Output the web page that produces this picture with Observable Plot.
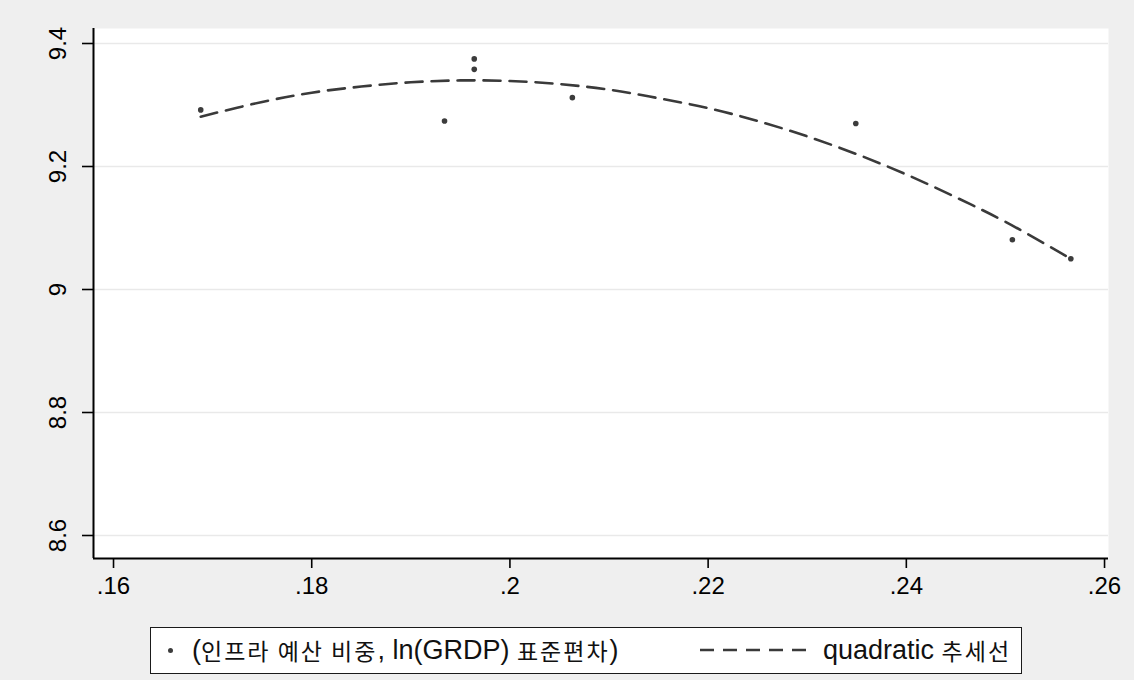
<!DOCTYPE html>
<html>
<head>
<meta charset="utf-8">
<script src="https://cdn.jsdelivr.net/npm/d3@7"></script>
<script src="https://cdn.jsdelivr.net/npm/@observablehq/plot@0.6"></script>
<style>
  html, body { margin: 0; padding: 0; background: #efefef; }
  #wrap { position: relative; width: 1134px; height: 680px; background: #efefef; overflow: hidden; }
  #legend {
    position: absolute; left: 150px; top: 627px; width: 872px; height: 47px;
    box-sizing: border-box; background: #fff; border: 1.5px solid #1a1a1a;
    font-family: "Liberation Sans", Arial, "Noto Sans CJK KR", sans-serif; color: #111;
  }
  #legend .item { position: absolute; top: 0; height: 44px; display: flex; align-items: center; white-space: nowrap; }
  #legend .lat { font-size: 27px; }
  #legend .kr { font-family: "Noto Sans CJK KR", sans-serif; font-size: 23px; letter-spacing: 2px; }
</style>
</head>
<body>
<div id="wrap">
  <div id="chart"></div>
  <div id="legend"></div>
</div>
<script>
// Scatter points: (infrastructure budget share, ln(GRDP) std. dev.)
const pointX = [0.1688, 0.1934, 0.1964, 0.1964, 0.2063, 0.2349, 0.2507, 0.2566];
const pointY = [9.292, 9.274, 9.375, 9.358, 9.312, 9.270, 9.081, 9.050];

// Quadratic trend line
const fitX = [0.1688, 0.175, 0.18, 0.185, 0.19, 0.195, 0.2, 0.205, 0.21, 0.215, 0.22, 0.225, 0.23, 0.235, 0.24, 0.245, 0.25, 0.2566];
const fitY = [9.281, 9.305, 9.320, 9.330, 9.337, 9.340, 9.339, 9.334, 9.325, 9.311, 9.295, 9.274, 9.249, 9.220, 9.187, 9.150, 9.110, 9.050];

// Ticks
const xTicks = [0.16, 0.18, 0.2, 0.22, 0.24, 0.26];
const xTickLabels = [".16", ".18", ".2", ".22", ".24", ".26"];
const yTicks = [8.6, 8.8, 9, 9.2, 9.4];
const yTickLabels = ["8.6", "8.8", "9", "9.2", "9.4"];

// Legend
const legendPointParts = [["lat", "("], ["kr", "인프라 예산 비중"], ["lat", ", ln(GRDP) "], ["kr", "표준편차"], ["lat", ")"]];
const legendLineParts = [["lat", "quadratic "], ["kr", "추세선"]];

const points = pointX.map((x, i) => ({x, y: pointY[i]}));
const fit = fitX.map((x, i) => ({x, y: fitY[i]}));
const xFmt = new Map(xTicks.map((t, i) => [t, xTickLabels[i]]));
const yLab = yTicks.map((t, i) => ({y: t, label: yTickLabels[i]}));

const xDomain = [0.15798, 0.2604];
const yDomain = [8.5626, 9.4244];

const chart = Plot.plot({
  width: 1134,
  height: 615,
  marginTop: 28,
  marginBottom: 57,
  marginLeft: 93,
  marginRight: 26,
  style: {background: "transparent", fontFamily: "'Liberation Sans', Arial, sans-serif", color: "#000"},
  x: {domain: xDomain},
  y: {domain: yDomain},
  marks: [
    Plot.frame({fill: "white", stroke: null}),
    Plot.gridY(yTicks, {stroke: "#e9e9e9", strokeOpacity: 1, strokeWidth: 1.6}),
    Plot.ruleX([xDomain[0]], {stroke: "#000", strokeWidth: 2}),
    Plot.ruleY([yDomain[0]], {stroke: "#000", strokeWidth: 2}),
    Plot.axisX({ticks: xTicks, tickSize: 10, tickPadding: 8, fontSize: 24, stroke: "#000", strokeWidth: 1.6,
      tickFormat: d => xFmt.get(d) ?? "", label: null}),
    Plot.axisY({ticks: yTicks, tickSize: 11, tickFormat: () => "", label: null, stroke: "#000", strokeWidth: 1.6}),
    Plot.text(yLab, {y: "y", text: "label", frameAnchor: "left", dx: -35, rotate: -90,
      textAnchor: "middle", lineAnchor: "middle", fontSize: 24, fill: "#000"}),
    Plot.line(fit, {x: "x", y: "y", stroke: "#3a3a3a", strokeWidth: 2.6, strokeDasharray: "17 9", curve: "catmull-rom"}),
    Plot.dot(points, {x: "x", y: "y", r: 2.8, fill: "#3c3c3c", stroke: null})
  ]
});
document.getElementById("chart").appendChild(chart);

// Legend
const legend = document.getElementById("legend");
const item1 = document.createElement("div");
item1.className = "item";
item1.style.left = "17px";
const dot = document.createElement("span");
dot.style.cssText = "display:inline-block;width:5px;height:5px;border-radius:50%;background:#3c3c3c;margin-right:19px;";
item1.appendChild(dot);
legendPointParts.forEach(([cls, t]) => {
  const s = document.createElement("span");
  s.className = cls; s.textContent = t; s.style.whiteSpace = "pre";
  item1.appendChild(s);
});
legend.appendChild(item1);

const item2 = document.createElement("div");
item2.className = "item";
item2.style.left = "549px";
const ns = "http://www.w3.org/2000/svg";
const sv = document.createElementNS(ns, "svg");
sv.setAttribute("width", "112"); sv.setAttribute("height", "10");
sv.style.marginRight = "11px";
const ln = document.createElementNS(ns, "line");
ln.setAttribute("x1", "0"); ln.setAttribute("x2", "112"); ln.setAttribute("y1", "5"); ln.setAttribute("y2", "5");
ln.setAttribute("stroke", "#3a3a3a"); ln.setAttribute("stroke-width", "2.4"); ln.setAttribute("stroke-dasharray", "14 9");
sv.appendChild(ln);
item2.appendChild(sv);
legendLineParts.forEach(([cls, t]) => {
  const s = document.createElement("span");
  s.className = cls; s.textContent = t; s.style.whiteSpace = "pre";
  item2.appendChild(s);
});
legend.appendChild(item2);
</script>
</body>
</html>
